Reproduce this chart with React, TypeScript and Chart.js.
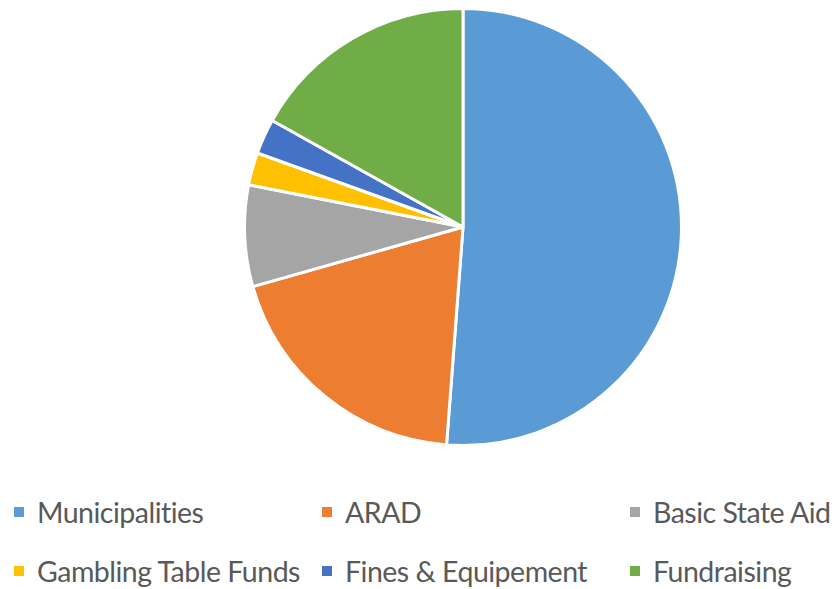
import React, { useEffect, useRef } from "react";
import { Chart, registerables } from "chart.js";

Chart.register(...registerables);

const categories: string[] = [
  "Municipalities",
  "ARAD",
  "Basic State Aid",
  "Gambling Table Funds",
  "Fines & Equipement",
  "Fundraising",
];
const values: number[] = [51.2, 19.4, 7.5, 2.4, 2.6, 16.9];
const colors: string[] = ["#5B9BD5", "#ED7D31", "#A5A5A5", "#FFC000", "#4472C4", "#70AD47"];

const legendCols = [14, 322, 630];
const legendRows = [512, 571];

export default function App() {
  const ref = useRef<HTMLCanvasElement | null>(null);
  useEffect(() => {
    document.body.style.margin = "0";
    const chart = new Chart(ref.current!, {
      type: "pie",
      data: {
        labels: categories,
        datasets: [
          {
            data: values,
            backgroundColor: colors,
            borderColor: "#ffffff",
            borderWidth: 3,
          },
        ],
      },
      options: {
        animation: false,
        responsive: false,
        maintainAspectRatio: false,
        layout: { padding: 0 },
        plugins: { legend: { display: false }, tooltip: { enabled: false } },
      },
    });
    return () => chart.destroy();
  }, []);

  return (
    <div style={{ position: "relative", width: 838, height: 589, background: "#fff", overflow: "hidden" }}>
      <canvas
        ref={ref}
        width={440}
        height={440}
        style={{ position: "absolute", left: 243, top: 7, width: 440, height: 440 }}
      />
      {categories.map((c, i) => {
        const col = legendCols[i % 3];
        const row = legendRows[Math.floor(i / 3)];
        return (
          <div
            key={c}
            style={{
              position: "absolute",
              left: col,
              top: row - 20,
              height: 40,
              display: "flex",
              alignItems: "center",
              whiteSpace: "nowrap",
              fontFamily: "Lato, sans-serif",
              fontSize: 28.5,
              letterSpacing: "-0.5px",
              color: "#595959",
            }}
          >
            <span style={{ display: "inline-block", width: 10, height: 10, background: colors[i], marginRight: 13 }} />
            <span style={{ display: "inline-block" }}>{c}</span>
          </div>
        );
      })}
    </div>
  );
}
